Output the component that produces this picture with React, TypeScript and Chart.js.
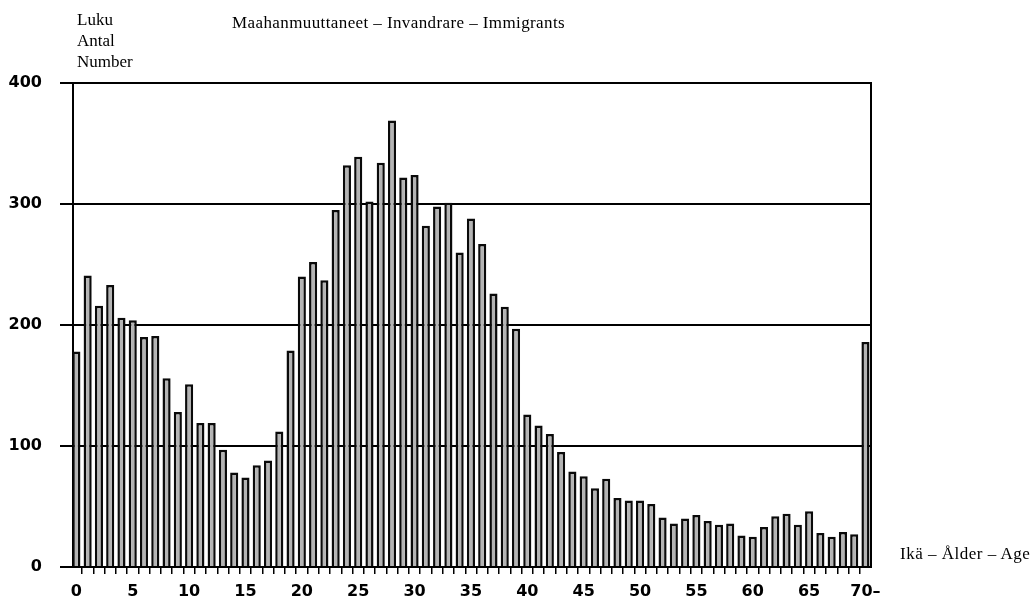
import React, { useEffect, useRef } from "react";
import { Chart, registerables } from "chart.js";

Chart.register(...registerables);

const ages: number[] = Array.from({ length: 71 }, (_, i) => i);
const counts: number[] = [
  178, 241, 216, 233, 206, 204, 190, 191, 156, 128,
  151, 119, 119, 97, 78, 74, 84, 88, 112, 179,
  240, 252, 237, 295, 332, 339, 302, 334, 369, 322,
  324, 282, 298, 301, 260, 288, 267, 226, 215, 197,
  126, 117, 110, 95, 79, 75, 65, 73, 57, 55,
  55, 52, 41, 36, 40, 43, 38, 35, 36, 26,
  25, 33, 42, 44, 35, 46, 28, 25, 29, 27,
  186,
];
const yTicks: number[] = [0, 100, 200, 300, 400];
const titleText = "Maahanmuuttaneet – Invandrare – Immigrants";
const yTitleLines: string[] = ["Luku", "Antal", "Number"];
const xTitleText = "Ikä – Ålder – Age";

const serif = "'Liberation Serif', 'Times New Roman', serif";
const sans = "'DejaVu Sans', sans-serif";

export default function App() {
  const ref = useRef<HTMLCanvasElement | null>(null);

  useEffect(() => {
    document.body.style.margin = "0";
    const ctx = ref.current;
    if (!ctx) return;
    const chart = new Chart(ctx, {
      type: "bar",
      data: {
        datasets: [
          {
            data: ages.map((a, i) => ({ x: a, y: counts[i] })),
            backgroundColor: "#b4b4b4",
            borderColor: "#0a0a0a",
            borderWidth: 2.5,
            categoryPercentage: 1,
            barPercentage: 0.72,
          },
        ],
      },
      options: {
        animation: false,
        responsive: false,
        maintainAspectRatio: false,
        layout: { padding: { left: 0, top: 83, right: 160, bottom: 0 } },
        plugins: { legend: { display: false }, tooltip: { enabled: false } },
        scales: {
          x: {
            type: "linear",
            min: -0.3,
            max: 70.49,
            offset: false,
            afterFit: (s: any) => {
              s.height = 36;
            },
            border: { display: true, color: "#000", width: 2 },
            grid: {
              display: true,
              drawOnChartArea: false,
              drawTicks: true,
              tickLength: 7,
              color: "#000",
              lineWidth: 1.5,
            },
            ticks: {
              stepSize: 1,
              includeBounds: false,
              autoSkip: false,
              maxRotation: 0,
              padding: 8,
              color: "#000",
              font: { family: sans, size: 16, weight: "bold" },
              callback: (v: any) => {
                const n = Number(v);
                if (n % 5 !== 0) return "";
                return n === 70 ? "70–" : String(n);
              },
            },
          },
          y: {
            min: 0,
            max: 400,
            afterFit: (s: any) => {
              s.width = 73;
            },
            afterBuildTicks: (s: any) => {
              s.ticks = yTicks.map((v) => ({ value: v }));
            },
            border: { display: true, color: "#000", width: 2 },
            grid: {
              color: "#000",
              lineWidth: 2,
              tickLength: 13,
            },
            ticks: {
              padding: 18,
              color: "#000",
              font: { family: sans, size: 16, weight: "bold" },
            },
          },
          yr: {
            position: "right",
            min: 0,
            max: 400,
            afterFit: (s: any) => {
              s.width = 0;
            },
            border: { display: true, color: "#000", width: 2 },
            grid: { drawOnChartArea: false, drawTicks: false },
            ticks: { display: false },
          },
        },
      },
    } as any);
    return () => chart.destroy();
  }, []);

  const textBase: React.CSSProperties = {
    position: "absolute",
    fontFamily: serif,
    fontSize: 17,
    lineHeight: "21px",
    color: "#000",
    whiteSpace: "nowrap",
    margin: 0,
  };

  return (
    <div style={{ position: "relative", width: 1031, height: 603, overflow: "hidden", background: "#fff" }}>
      <canvas ref={ref} width={1031} height={603} style={{ position: "absolute", left: 0, top: 0 }} />
      <div style={{ ...textBase, left: 77, top: 9 }}>
        {yTitleLines.map((l) => (
          <div key={l}>{l}</div>
        ))}
      </div>
      <div style={{ ...textBase, left: 232, top: 12, letterSpacing: "0.4px" }}>{titleText}</div>
      <div style={{ ...textBase, left: 900, top: 543, letterSpacing: "0.5px" }}>{xTitleText}</div>
    </div>
  );
}
